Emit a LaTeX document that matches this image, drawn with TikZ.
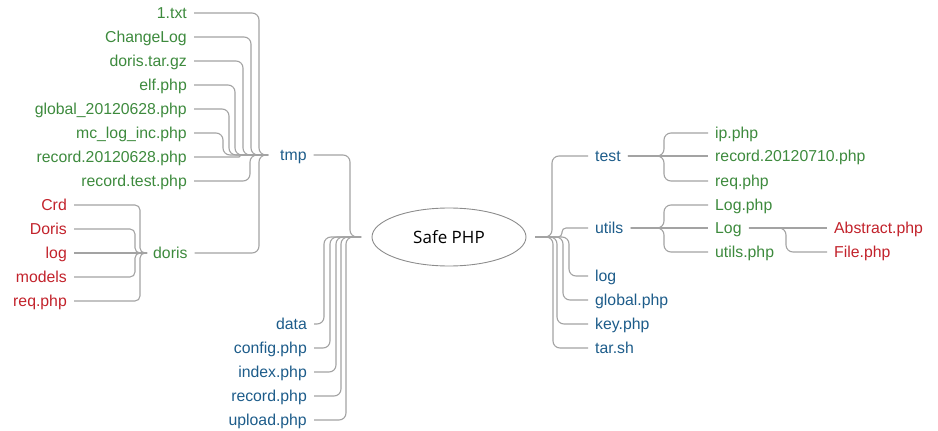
\documentclass[tikz,border=0pt]{standalone}
\usepackage{fontspec}
\setmainfont{Liberation Sans}
\newfontfamily\safefont{Open Sans}
\usetikzlibrary{shapes.geometric}
\definecolor{cblue}{HTML}{1D5C8A}
\definecolor{cgreen}{HTML}{3D8A3D}
\definecolor{cred}{HTML}{C2222B}
\definecolor{cline}{HTML}{A3A3A3}
\definecolor{cell}{HTML}{8C8C8C}
\begin{document}
\begin{tikzpicture}[x=1pt,y=-1pt,
  lbl/.style={font=\fontsize{15.8}{18}\selectfont, inner xsep=7pt, inner ysep=2pt, text height=11pt, text depth=0pt},
  lblL/.style={lbl, anchor=east},
  lblR/.style={lbl, anchor=west},
  fb/.style={text=cblue},
  fg/.style={text=cgreen},
  fr/.style={text=cred},
  conn/.style={draw=cline, line width=1.1pt, rounded corners=7pt},
  root/.style={draw=cell, line width=0.9pt, ellipse, minimum width=154pt, minimum height=58pt, inner sep=0pt, font=\safefont\fontsize{17}{20}\selectfont}]
\useasboundingbox (0,0) rectangle (938,431);

% root
\node[root] (safe) at (449,237) {Safe PHP};
\coordinate (L) at (361,237);
\coordinate (R) at (535,237);

% tmp branch
\node[lblR,fb] (tmp) at (273,155) {tmp};
\coordinate (tmpJ) at (268,155);
\node[lblL,fg] (t1) at (194,13) {1.txt};
\node[lblL,fg] (t2) at (194,37) {ChangeLog};
\node[lblL,fg] (t3) at (194,61) {doris.tar.gz};
\node[lblL,fg] (t4) at (194,85) {elf.php};
\node[lblL,fg] (t5) at (194,109) {global\_20120628.php};
\node[lblL,fg] (t6) at (194,133) {mc\_log\_inc.php};
\node[lblL,fg] (t7) at (194,157) {record.20120628.php};
\node[lblL,fg] (t8) at (194,181) {record.test.php};
\node[lblR,fg] (doris) at (146,253) {doris};
\coordinate (dorisJ) at (147,253);
\node[lblL,fr] (d1) at (74,205) {Crd};
\node[lblL,fr] (d2) at (74,229) {Doris};
\node[lblL,fr] (d3) at (74,253) {log};
\node[lblL,fr] (d4) at (74,277) {models};
\node[lblL,fr] (d5) at (74,301) {req.php};

\draw[conn] (t1.east) -| (259,155) -- (tmpJ);
\draw[conn] (t2.east) -| (251,155) -- (tmpJ);
\draw[conn] (t3.east) -| (243,155) -- (tmpJ);
\draw[conn] (t4.east) -| (235,155) -- (tmpJ);
\draw[conn] (t5.east) -| (229,155) -- (tmpJ);
\draw[conn] (t6.east) -| (223,155) -- (tmpJ);
\draw[conn,rounded corners=1pt] (t7.east) -| (240,155) -- (tmpJ);
\draw[conn] (t8.east) -| (250,155) -- (tmpJ);
\draw[conn] (doris.east) -| (259,155) -- (tmpJ);

\draw[conn,rounded corners=5pt] (d1.east) -| (140,253) -- (dorisJ);
\draw[conn,rounded corners=5pt] (d2.east) -| (135,253) -- (dorisJ);
\draw[conn] (d3.east) -- (dorisJ);
\draw[conn,rounded corners=5pt] (d4.east) -| (135,253) -- (dorisJ);
\draw[conn,rounded corners=5pt] (d5.east) -| (140,253) -- (dorisJ);

\draw[conn] (tmp.east) -| (350,237) -- (L);

% bottom-left files
\node[lblL,fb] (b1) at (314,324) {data};
\node[lblL,fb] (b2) at (314,348) {config.php};
\node[lblL,fb] (b3) at (314,372) {index.php};
\node[lblL,fb] (b4) at (314,396) {record.php};
\node[lblL,fb] (b5) at (314,420) {upload.php};
\draw[conn] (b1.east) -| (324,237) -- (L);
\draw[conn] (b2.east) -| (330,237) -- (L);
\draw[conn] (b3.east) -| (336,237) -- (L);
\draw[conn] (b4.east) -| (341,237) -- (L);
\draw[conn] (b5.east) -| (346,237) -- (L);

% right side
\node[lblR,fb] (test) at (588,156) {test};
\node[lblR,fb] (utils) at (588,228) {utils};
\node[lblR,fb] (log) at (588,276) {log};
\node[lblR,fb] (glob) at (588,300) {global.php};
\node[lblR,fb] (key) at (588,324) {key.php};
\node[lblR,fb] (tar) at (588,348) {tar.sh};

\draw[conn] (R) -| (552,156) -- (test.west);
\draw[conn,rounded corners=4pt] (R) -| (562,228) -- (utils.west);
\draw[conn] (R) -| (569,276) -- (log.west);
\draw[conn] (R) -| (563,300) -- (glob.west);
\draw[conn] (R) -| (557,324) -- (key.west);
\draw[conn] (R) -| (553,348) -- (tar.west);

\node[lblR,fg] (ip) at (708,133) {ip.php};
\node[lblR,fg] (rec) at (708,156) {record.20120710.php};
\node[lblR,fg] (req) at (708,181) {req.php};
\draw[conn] (test.east) -| (664,133) -- (ip.west);
\draw[conn] (test.east) -- (rec.west);
\draw[conn] (test.east) -| (664,181) -- (req.west);

\node[lblR,fg] (logphp) at (708,205) {Log.php};
\node[lblR,fg] (logd) at (708,228) {Log};
\node[lblR,fg] (uphp) at (708,252) {utils.php};
\draw[conn] (utils.east) -| (664,205) -- (logphp.west);
\draw[conn] (utils.east) -- (logd.west);
\draw[conn] (utils.east) -| (664,252) -- (uphp.west);

\node[lblR,fr] (abs) at (827,228) {Abstract.php};
\node[lblR,fr] (file) at (827,252) {File.php};
\draw[conn] (logd.east) -- (abs.west);
\draw[conn] (logd.east) -| (786,252) -- (file.west);
\end{tikzpicture}
\end{document}
